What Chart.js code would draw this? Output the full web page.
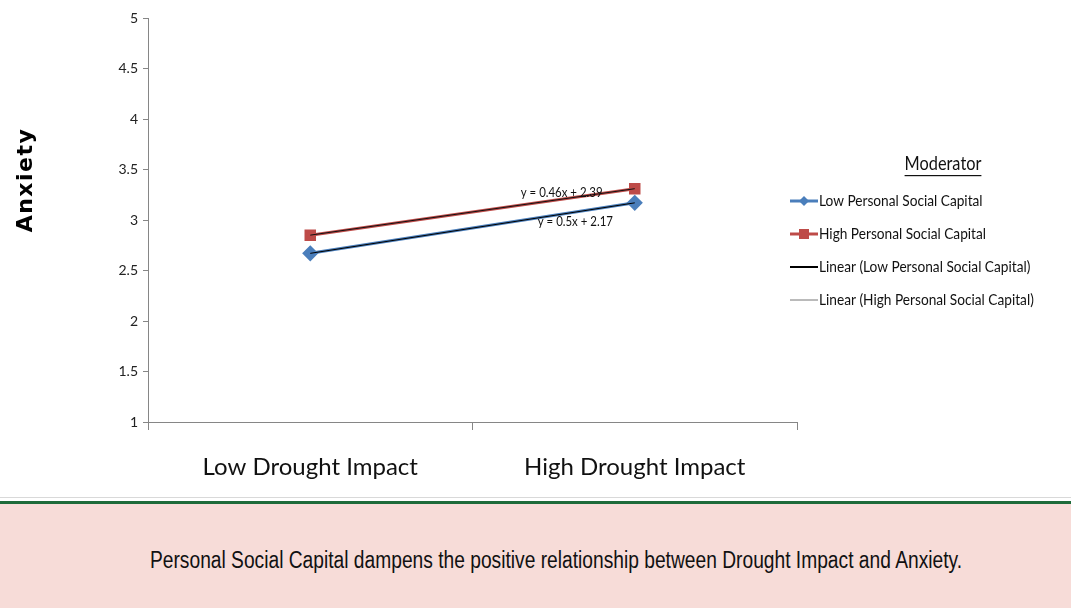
<!DOCTYPE html>
<html>
<head>
<meta charset="utf-8">
<script src="https://cdn.jsdelivr.net/npm/chart.js@4"></script>
<style>
  html, body { margin: 0; padding: 0; background: #fff; }
  #wrap { width: 1071px; height: 608px; position: relative; overflow: hidden; }
  #chartBox { width: 1071px; height: 497px; position: relative; }
  #rule1 { height: 1px; background: #d9d9d9; }
  #rule2 { height: 3px; background: #1e6b3a; margin-top: 3px; }
  #band {
    height: 104px; background: #f7dcd8; position: relative;
    font-family: "Liberation Sans", Arial, sans-serif;
    font-size: 23px; color: #111;
  }
  #band span {
    position: absolute; left: 556px; top: 56px; white-space: nowrap;
    transform: translate(-50%, -50%) scaleX(0.835);
  }
</style>
</head>
<body>
<div id="wrap">
  <div id="chartBox"><canvas id="myChart"></canvas></div>
  <div id="rule1"></div>
  <div id="rule2"></div>
  <div id="band"><span>Personal Social Capital dampens the positive relationship between Drought Impact and Anxiety.</span></div>
</div>
<script>
const categories = ['Low Drought Impact', 'High Drought Impact'];
const lowCapital = [2.67, 3.17];
const highCapital = [2.85, 3.31];
const lowLabel = 'Low Personal Social Capital';
const highLabel = 'High Personal Social Capital';
const lowEquation = 'y = 0.5x + 2.17';
const highEquation = 'y = 0.46x + 2.39';
const yTicks = [1, 1.5, 2, 2.5, 3, 3.5, 4, 4.5, 5];

const blue = '#4a7ebb';
const red = '#be4b48';
const calibri = 'Lato, "Open Sans", sans-serif';

// draw text squeezed horizontally, calibri is narrower than lato
function narrowText(ctx, text, x, y, sx) {
  ctx.save();
  ctx.translate(x, y);
  ctx.scale(sx, 1);
  ctx.fillText(text, 0, 0);
  ctx.restore();
}

// y-axis title, equations and the legend block on the right
const extras = {
  id: 'extras',
  afterDraw(chart) {
    const ctx = chart.ctx;
    const x = chart.scales.x, y = chart.scales.y;
    ctx.save();

    // Anxiety
    ctx.translate(26, 180);
    ctx.rotate(-Math.PI / 2);
    ctx.font = 'bold 22px "DejaVu Sans", sans-serif';
    ctx.letterSpacing = '1.5px';
    ctx.fillStyle = '#000';
    ctx.textAlign = 'center';
    ctx.textBaseline = 'middle';
    ctx.fillText('Anxiety', 0, 0);
    ctx.restore();

    // trendline equations
    ctx.save();
    ctx.font = '13px ' + calibri;
    ctx.fillStyle = '#111';
    ctx.textAlign = 'left';
    ctx.textBaseline = 'middle';
    const xr = x.getPixelForValue(1);
    narrowText(ctx, highEquation, xr - 114, y.getPixelForValue(highCapital[1]) + 4, 0.88);
    narrowText(ctx, lowEquation, xr - 97, y.getPixelForValue(lowCapital[1]) + 19, 0.88);
    ctx.restore();

    // legend
    ctx.save();
    ctx.fillStyle = '#111';
    ctx.textBaseline = 'middle';
    ctx.font = '19px ' + calibri;
    ctx.textAlign = 'left';
    const sxT = 0.86;
    const tw = ctx.measureText('Moderator').width * sxT;
    narrowText(ctx, 'Moderator', 943 - tw / 2, 164, sxT);
    ctx.fillRect(943 - tw / 2, 175, tw, 1.2);

    const items = [
      {text: lowLabel, color: blue, w: 3, marker: 'diamond'},
      {text: highLabel, color: red, w: 3, marker: 'square'},
      {text: 'Linear (' + lowLabel + ')', color: '#000', w: 2},
      {text: 'Linear (' + highLabel + ')', color: '#777', w: 1}
    ];
    ctx.font = '16px ' + calibri;
    items.forEach((it, i) => {
      const cy = 201 + i * 33;
      ctx.strokeStyle = it.color;
      ctx.lineWidth = it.w;
      ctx.beginPath();
      ctx.moveTo(790, cy);
      ctx.lineTo(818, cy);
      ctx.stroke();
      ctx.fillStyle = it.color;
      if (it.marker === 'diamond') {
        ctx.beginPath();
        ctx.moveTo(804, cy - 5); ctx.lineTo(809, cy); ctx.lineTo(804, cy + 5); ctx.lineTo(799, cy);
        ctx.closePath(); ctx.fill();
      } else if (it.marker === 'square') {
        ctx.fillRect(799, cy - 5, 10, 10);
      }
      ctx.fillStyle = '#111';
      narrowText(ctx, it.text, 819, cy, 0.855);
    });
    ctx.restore();
  }
};

const ctx = document.getElementById('myChart');
new Chart(ctx, {
  type: 'line',
  data: {
    labels: categories,
    datasets: [
      {
        label: lowLabel, data: lowCapital,
        borderColor: blue, backgroundColor: blue, borderWidth: 3,
        pointStyle: 'rectRot', pointRadius: 6, pointHoverRadius: 6, order: 2
      },
      {
        label: highLabel, data: highCapital,
        borderColor: red, backgroundColor: red, borderWidth: 3,
        pointStyle: 'rect', pointRadius: 6, pointHoverRadius: 6, order: 2
      },
      {
        label: 'Linear (' + lowLabel + ')', data: lowCapital,
        borderColor: '#000', borderWidth: 1, pointRadius: 0, order: 1
      },
      {
        label: 'Linear (' + highLabel + ')', data: highCapital,
        borderColor: '#111', borderWidth: 1, pointRadius: 0, order: 1
      }
    ]
  },
  options: {
    responsive: true,
    maintainAspectRatio: false,
    animation: false,
    layout: { padding: { left: 0, right: 274, top: 18, bottom: 0 } },
    plugins: {
      legend: { display: false },
      tooltip: { enabled: false }
    },
    scales: {
      x: {
        offset: true,
        grid: { offset: true, drawOnChartArea: false, drawTicks: true, tickLength: 8, color: '#868686' },
        border: { color: '#868686', width: 1 },
        ticks: { font: { family: calibri, size: 24 }, color: '#111', padding: 23 },
        afterFit(s) { s.height = 75; }
      },
      y: {
        min: 1, max: 5,
        afterBuildTicks(s) { s.ticks = yTicks.map(v => ({value: v})); },
        grid: { drawOnChartArea: false, drawTicks: true, tickLength: 5, color: '#868686' },
        border: { color: '#868686', width: 1 },
        ticks: { font: { family: calibri, size: 14 }, color: '#222', padding: 5,
                 callback: v => String(v) },
        afterFit(s) { s.width = 148; }
      }
    }
  },
  plugins: [extras]
});
</script>
</body>
</html>
